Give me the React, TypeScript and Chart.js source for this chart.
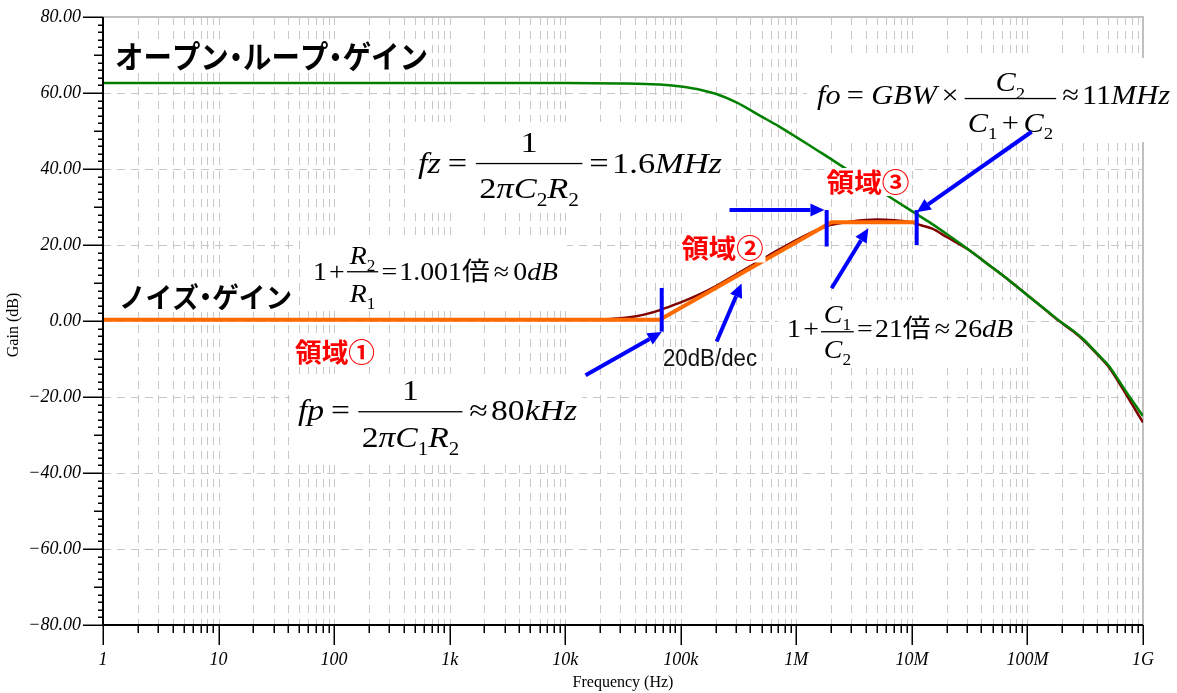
import React, { useEffect, useRef } from 'react';
import { Chart, registerables } from 'chart.js';

Chart.register(...registerables);

// Frequency axis (Hz): decade ticks and their labels
const decadeFreqs = [1, 10, 100, 1e3, 1e4, 1e5, 1e6, 1e7, 1e8, 1e9];
const decadeLabels = ['1', '10', '100', '1k', '10k', '100k', '1M', '10M', '100M', '1G'];

// Gain axis (dB)
const gainTicks = [80, 60, 40, 20, 0, -20, -40, -60, -80];
const gainLabels = ['80.00', '60.00', '40.00', '20.00', '0.00', '−20.00', '−40.00', '−60.00', '−80.00'];

// Open-loop gain of the op-amp
const openLoopFreq = [1, 1e4, 3e4, 5e4, 7e4, 1e5, 1.5e5, 2e5, 3e5, 5e5, 7e5, 1e6, 1.5e6, 2e6, 3e6, 5e6, 7e6, 1e7, 1.5e7, 2e7, 3e7, 5e7, 7e7, 1e8, 1.5e8, 1.9e8, 2.5e8, 3e8, 4.2e8, 5e8, 6.6e8, 8e8, 1e9];
const openLoopGain = [62.6, 62.6, 62.5, 62.4, 62.2, 61.7, 60.8, 59.8, 57.6, 53.8, 51.3, 48.4, 45.0, 42.6, 39.1, 34.8, 31.9, 28.9, 25.5, 22.9, 19.1, 14.0, 10.6, 6.8, 2.5, 0.0, -2.6, -4.6, -9.2, -11.6, -17.0, -20.8, -25.0];

// Simulated noise gain
const noiseFreq = [1, 1e4, 2e4, 3e4, 4e4, 5e4, 6.5e4, 8e4, 1e5, 1.5e5, 2e5, 3e5, 5e5, 7e5, 1e6, 1.5e6, 2e6, 3e6, 4e6, 5e6, 7e6, 1e7, 1.2e7, 1.5e7, 2e7, 3e7, 5e7, 7e7, 1e8, 1.5e8, 1.9e8, 2.5e8, 3e8, 4.2e8, 5e8, 6.6e8, 8e8, 1e9];
const noiseGain = [0.3, 0.3, 0.4, 0.7, 1.2, 1.8, 2.8, 3.8, 4.9, 7.2, 9.1, 12.2, 16.1, 18.7, 21.3, 23.9, 25.3, 26.2, 26.6, 26.7, 26.5, 25.9, 25.2, 24.3, 22.1, 19.0, 14.0, 10.6, 6.8, 2.4, -0.1, -2.8, -4.8, -9.4, -11.9, -17.6, -21.8, -26.7];

// Straight-line approximation of the noise gain
const asymFreq = [1, 65800, 2.01e6, 1.09e7];
const asymGain = [0.3, 0.3, 26.0, 26.0];

// Blue corner markers (Hz, dB top, dB bottom) and arrows (Hz, dB)
const markerFreq = [68400, 1.83e6, 1.1e7];
const markerTop = [8.7, 29.2, 29.2];
const markerBottom = [-2.8, 19.6, 20.0];
const arrowFrom = [[1.5e4, -14.3], [2.045e5, -5.4], [2.64e5, 29.2], [2.02e6, 8.6], [1.087e8, 49.8]];
const arrowTo = [[68400, -2.9], [3.36e5, 9.9], [1.75e6, 29.2], [4.2e6, 24.4], [1.1e7, 28.6]];

// Region labels
const regionLabels = ['領域①', '領域②', '領域③'];
const regionCenters = [[335, 352.5], [722.5, 248.5], [868, 182]];
const regionWidths = [80, 82, 83];

// Curve titles
const titleTexts = ['オープン・ループ・ゲイン', 'ノイズ・ゲイン'];
const titleBoxes = [[115, 428, 56, 31], [119, 292, 297, 28]];

const SERIF = '"Liberation Serif", "Times New Roman", serif';
const CJK = '"Noto Sans CJK JP", sans-serif';

type Piece =
  | { kind: 'txt'; t: string; it?: boolean; sub?: boolean; cjk?: boolean }
  | { kind: 'sp'; em: number }
  | { kind: 'frac'; num: Piece[]; den: Piece[] };

const T = (t: string): Piece => ({ kind: 'txt', t });
const I = (t: string): Piece => ({ kind: 'txt', t, it: true });
const S = (t: string): Piece => ({ kind: 'txt', t, sub: true });
const J = (t: string): Piece => ({ kind: 'txt', t, cjk: true });
const SP = (em: number): Piece => ({ kind: 'sp', em });
const FR = (num: Piece[], den: Piece[]): Piece => ({ kind: 'frac', num, den });

interface Formula {
  size: number; left: number; right: number; base: number; bar: number; num: number; den: number;
  box: number[]; row: Piece[];
}

const formulas: Formula[] = [
  {
    size: 28, left: 817, right: 1170, base: 104, bar: 98.5, num: 91, den: 131.5, box: [807, 58, 1177, 142],
    row: [I('fo'), SP(0.2), T('='), SP(0.25), I('GBW'), SP(0.15), T('×'), SP(0.2),
      FR([I('C'), S('2')], [I('C'), S('1'), SP(0.15), T('+'), SP(0.15), I('C'), S('2')]),
      SP(0.2), T('≈'), SP(0.1), T('11'), I('MHz')],
  },
  {
    size: 29, left: 418, right: 722, base: 172.5, bar: 163.5, num: 152, den: 197.5, box: [414, 122, 726, 212],
    row: [I('fz'), SP(0.2), T('='), SP(0.25),
      FR([T('1')], [T('2'), I('π'), I('C'), S('2'), I('R'), S('2')]),
      SP(0.2), T('='), SP(0.1), T('1.6'), I('MHz')],
  },
  {
    size: 29, left: 298, right: 577, base: 420, bar: 411.7, num: 400, den: 446.5, box: [290, 374, 582, 462],
    row: [I('fp'), SP(0.2), T('='), SP(0.25),
      FR([T('1')], [T('2'), I('π'), I('C'), S('1'), I('R'), S('2')]),
      SP(0.2), T('≈'), SP(0.1), T('80'), I('kHz')],
  },
  {
    size: 25.5, left: 313, right: 558, base: 280, bar: 271.7, num: 264, den: 301.7, box: [300, 236, 567, 311],
    row: [T('1'), SP(0.08), T('+'), SP(0.08),
      FR([I('R'), S('2')], [I('R'), S('1')]),
      SP(0.12), T('='), SP(0.08), T('1.001'), J('倍'), SP(0.15), T('≈'), SP(0.15), T('0'), I('dB')],
  },
  {
    size: 25.5, left: 787, right: 1013, base: 337, bar: 331.7, num: 322.5, den: 358, box: [778, 300, 1020, 368],
    row: [T('1'), SP(0.08), T('+'), SP(0.08),
      FR([I('C'), S('1')], [I('C'), S('2')]),
      SP(0.12), T('='), SP(0.08), T('21'), J('倍'), SP(0.15), T('≈'), SP(0.15), T('26'), I('dB')],
  },
];

function setPieceFont(ctx: CanvasRenderingContext2D, p: any, size: number) {
  const s = p.sub ? size * 0.62 : size;
  ctx.font = `${p.it ? 'italic ' : ''}${s}px ${p.cjk ? CJK : SERIF}`;
}

function rowWidth(ctx: CanvasRenderingContext2D, row: Piece[], size: number): number {
  let w = 0;
  for (const p of row) {
    if (p.kind === 'sp') w += p.em * size;
    else if (p.kind === 'txt') { setPieceFont(ctx, p, size); w += ctx.measureText(p.t).width; }
    else w += fracWidth(ctx, p, size);
  }
  return w;
}

function fracWidth(ctx: CanvasRenderingContext2D, p: any, size: number): number {
  return Math.max(rowWidth(ctx, p.num, size), rowWidth(ctx, p.den, size)) + 0.2 * size;
}

function drawRow(ctx: CanvasRenderingContext2D, row: Piece[], x: number, base: number, size: number, f: Formula) {
  for (const p of row) {
    if (p.kind === 'sp') { x += p.em * size; continue; }
    if (p.kind === 'txt') {
      setPieceFont(ctx, p, size);
      ctx.fillText(p.t, x, base + (p.sub ? 0.28 * size : 0));
      x += ctx.measureText(p.t).width;
      continue;
    }
    const fw = fracWidth(ctx, p, size);
    const nw = rowWidth(ctx, p.num, size);
    const dw = rowWidth(ctx, p.den, size);
    ctx.fillRect(x, f.bar - 0.6, fw, 1.3);
    drawRow(ctx, p.num, x + (fw - nw) / 2, f.num, size, f);
    drawRow(ctx, p.den, x + (fw - dw) / 2, f.den, size, f);
    x += fw;
  }
}

function drawFormula(ctx: CanvasRenderingContext2D, f: Formula) {
  ctx.save();
  ctx.fillStyle = '#ffffff';
  ctx.fillRect(f.box[0], f.box[1], f.box[2] - f.box[0], f.box[3] - f.box[1]);
  ctx.fillStyle = '#000000';
  ctx.textBaseline = 'alphabetic';
  ctx.textAlign = 'left';
  const w = rowWidth(ctx, f.row, f.size);
  ctx.translate(f.left, 0);
  ctx.scale((f.right - f.left) / w, 1);
  drawRow(ctx, f.row, 0, f.base, f.size, f);
  ctx.restore();
}

// Draws text fitted into [left, right], with narrow middle dots
function drawFitted(ctx: CanvasRenderingContext2D, text: string, left: number, right: number, cy: number, size: number, font: string, color: string) {
  ctx.save();
  ctx.font = font;
  const chars = Array.from(text);
  const adv = chars.map((c) => ctx.measureText(c).width * (c === '・' ? 0.5 : 1));
  const total = adv.reduce((a, b) => a + b, 0);
  ctx.fillStyle = '#ffffff';
  ctx.fillRect(left - 2, cy - size * 0.5 - 1, right - left + 4, size + 2);
  ctx.fillStyle = color;
  ctx.textBaseline = 'middle';
  ctx.textAlign = 'center';
  ctx.translate(left, cy);
  ctx.scale((right - left) / total, 1);
  let x = 0;
  chars.forEach((c, i) => {
    ctx.fillText(c, x + adv[i] / 2, 0);
    x += adv[i];
  });
  ctx.restore();
}

function drawArrow(ctx: CanvasRenderingContext2D, x1: number, y1: number, x2: number, y2: number) {
  const head = 14;
  const half = 6.5;
  const ang = Math.atan2(y2 - y1, x2 - x1);
  const bx = x2 - Math.cos(ang) * head;
  const by = y2 - Math.sin(ang) * head;
  ctx.beginPath();
  ctx.moveTo(x1, y1);
  ctx.lineTo(bx, by);
  ctx.stroke();
  ctx.beginPath();
  ctx.moveTo(x2, y2);
  ctx.lineTo(bx + Math.sin(ang) * half, by - Math.cos(ang) * half);
  ctx.lineTo(bx - Math.sin(ang) * half, by + Math.cos(ang) * half);
  ctx.closePath();
  ctx.fill();
}

const decorPlugin = {
  id: 'bodeDecor',
  beforeDraw(chart: any) {
    const { ctx, width, height } = chart;
    ctx.save();
    ctx.fillStyle = '#ffffff';
    ctx.fillRect(0, 0, width, height);
    ctx.restore();
  },
  beforeDatasetsDraw(chart: any) {
    const { ctx, chartArea: a, scales } = chart;
    const xs = scales.x;
    const ys = scales.y;
    ctx.save();
    ctx.strokeStyle = '#c8c8c8';
    ctx.lineWidth = 1;
    ctx.setLineDash([8, 6]);
    ctx.beginPath();
    for (let d = 0; d < decadeFreqs.length - 1; d++) {
      for (let m = 1; m <= 9; m++) {
        if (d === 0 && m === 1) continue;
        const px = Math.round(xs.getPixelForValue(decadeFreqs[d] * m)) + 0.5;
        ctx.moveTo(px, a.top);
        ctx.lineTo(px, a.bottom);
      }
    }
    ctx.stroke();
    ctx.beginPath();
    for (const g of gainTicks) {
      if (g === 80 || g === -80) continue;
      const py = Math.round(ys.getPixelForValue(g)) + 0.5;
      ctx.moveTo(a.left, py);
      ctx.lineTo(a.right, py);
    }
    ctx.stroke();
    ctx.setLineDash([]);
    ctx.strokeStyle = '#c0c0c0';
    ctx.lineWidth = 2;
    ctx.beginPath();
    ctx.moveTo(a.left, a.top);
    ctx.lineTo(a.right, a.top);
    ctx.lineTo(a.right, a.bottom);
    ctx.stroke();
    ctx.restore();
  },
  afterDatasetsDraw(chart: any) {
    const { ctx, chartArea: a, scales } = chart;
    const xs = scales.x;
    const ys = scales.y;
    ctx.save();

    // axes
    ctx.strokeStyle = '#000000';
    ctx.lineWidth = 2;
    ctx.beginPath();
    ctx.moveTo(a.left, a.top);
    ctx.lineTo(a.left, a.bottom);
    ctx.lineTo(a.right, a.bottom);
    ctx.stroke();

    ctx.lineWidth = 1.5;
    ctx.beginPath();
    for (let v = -80; v <= 80; v += 2) {
      const py = Math.round(ys.getPixelForValue(v)) + 0.25;
      const len = v % 20 === 0 ? 20 : v % 10 === 0 ? 9 : 5;
      ctx.moveTo(a.left - len, py);
      ctx.lineTo(a.left, py);
    }
    for (let d = 0; d < decadeFreqs.length; d++) {
      const last = d === decadeFreqs.length - 1;
      for (let m = 1; m <= (last ? 1 : 9); m++) {
        const px = Math.round(xs.getPixelForValue(decadeFreqs[d] * m)) + 0.25;
        const len = m === 1 ? 20 : 8;
        ctx.moveTo(px, a.bottom);
        ctx.lineTo(px, a.bottom + len);
      }
    }
    ctx.stroke();

    // tick labels
    ctx.fillStyle = '#000000';
    ctx.font = `italic 18px ${SERIF}`;
    ctx.textBaseline = 'middle';
    ctx.textAlign = 'right';
    gainTicks.forEach((g, i) => ctx.fillText(gainLabels[i], a.left - 22, ys.getPixelForValue(g)));
    ctx.textAlign = 'center';
    decadeFreqs.forEach((f, i) => ctx.fillText(decadeLabels[i], xs.getPixelForValue(f), a.bottom + 35));

    // axis titles
    ctx.font = `16px ${SERIF}`;
    ctx.fillText('Frequency (Hz)', (a.left + a.right) / 2, a.bottom + 58);
    ctx.save();
    ctx.translate(14, 325);
    ctx.rotate(-Math.PI / 2);
    ctx.fillText('Gain (dB)', 0, 0);
    ctx.restore();

    // curve titles
    titleTexts.forEach((t, i) => {
      const [l, r, cy, size] = titleBoxes[i];
      drawFitted(ctx, t, l, r, cy, size, `bold ${size}px ${CJK}`, '#000000');
    });

    // formulas
    formulas.forEach((f) => drawFormula(ctx, f));

    // region labels
    regionLabels.forEach((t, i) => {
      const [cx, cy] = regionCenters[i];
      const w = regionWidths[i];
      drawFitted(ctx, t, cx - w / 2, cx + w / 2, cy, 26, `bold 26px ${CJK}`, '#ff0000');
    });

    // slope label
    ctx.save();
    ctx.font = `23px "Liberation Sans", Arial, sans-serif`;
    ctx.fillStyle = '#111111';
    ctx.textAlign = 'left';
    ctx.textBaseline = 'alphabetic';
    const sw = ctx.measureText('20dB/dec').width;
    ctx.translate(663, 366);
    ctx.scale(94 / sw, 1);
    ctx.fillText('20dB/dec', 0, 0);
    ctx.restore();

    // blue markers and arrows
    ctx.strokeStyle = '#0000ff';
    ctx.fillStyle = '#0000ff';
    ctx.lineWidth = 4;
    ctx.lineCap = 'butt';
    markerFreq.forEach((f, i) => {
      const px = xs.getPixelForValue(f);
      ctx.beginPath();
      ctx.moveTo(px, ys.getPixelForValue(markerTop[i]));
      ctx.lineTo(px, ys.getPixelForValue(markerBottom[i]));
      ctx.stroke();
    });
    arrowFrom.forEach((p, i) => {
      const q = arrowTo[i];
      drawArrow(ctx, xs.getPixelForValue(p[0]), ys.getPixelForValue(p[1]), xs.getPixelForValue(q[0]), ys.getPixelForValue(q[1]));
    });

    ctx.restore();
  },
};

export default function App() {
  const ref = useRef<HTMLCanvasElement>(null);

  useEffect(() => {
    const canvas = ref.current;
    if (!canvas) return;
    const chart = new Chart(canvas, {
      type: 'line',
      data: {
        datasets: [
          {
            label: 'Open-loop gain',
            data: openLoopFreq.map((f, i) => ({ x: f, y: openLoopGain[i] })),
            borderColor: '#008000',
            borderWidth: 2.5,
            pointRadius: 0,
            cubicInterpolationMode: 'monotone',
            order: 0,
          },
          {
            label: 'Noise gain (asymptote)',
            data: asymFreq.map((f, i) => ({ x: f, y: asymGain[i] })),
            borderColor: '#ff6a00',
            borderWidth: 4,
            pointRadius: 0,
            tension: 0,
            borderJoinStyle: 'round',
            order: 1,
          },
          {
            label: 'Noise gain',
            data: noiseFreq.map((f, i) => ({ x: f, y: noiseGain[i] })),
            borderColor: '#800000',
            borderWidth: 2.5,
            pointRadius: 0,
            cubicInterpolationMode: 'monotone',
            order: 2,
          },
        ],
      },
      options: {
        responsive: false,
        animation: false,
        devicePixelRatio: 1,
        layout: { padding: { left: 0, right: 34, top: 17, bottom: 0 } },
        plugins: { legend: { display: false }, tooltip: { enabled: false } },
        events: [],
        scales: {
          x: {
            type: 'logarithmic',
            min: 1,
            max: 1e9,
            grid: { display: false },
            border: { display: false },
            ticks: { display: false },
            afterFit: (s: any) => { s.height = 68; },
          },
          y: {
            type: 'linear',
            min: -80,
            max: 80,
            grid: { display: false },
            border: { display: false },
            ticks: { display: false },
            afterFit: (s: any) => { s.width = 103; },
          },
        },
      } as any,
      plugins: [decorPlugin],
    });
    return () => chart.destroy();
  }, []);

  return (
    <div style={{ position: 'absolute', left: 0, top: 0, width: 1177, height: 693, background: '#ffffff' }}>
      <canvas ref={ref} width={1177} height={693} style={{ display: 'block', width: 1177, height: 693 }} />
    </div>
  );
}
